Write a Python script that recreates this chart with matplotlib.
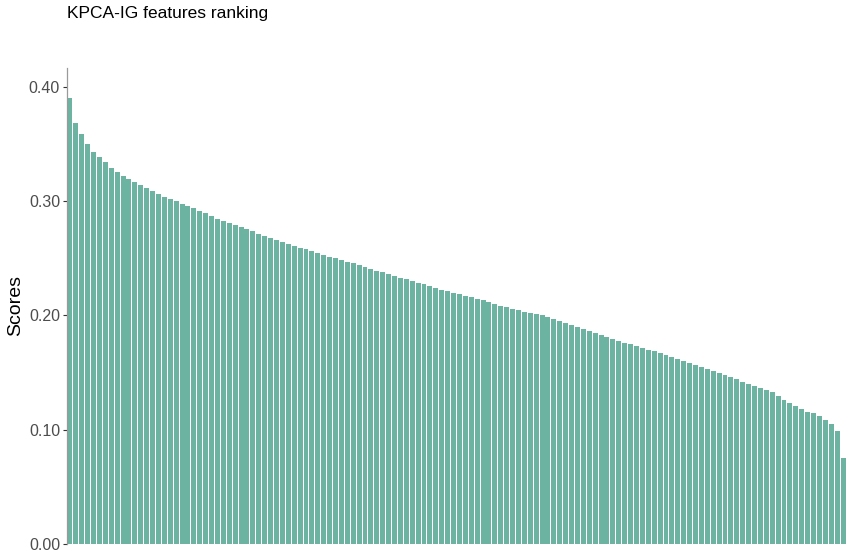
import matplotlib
matplotlib.use("Agg")
import matplotlib.pyplot as plt
import numpy as np

plt.rcParams["font.family"] = ["Liberation Sans", "DejaVu Sans"]

# KPCA-IG scores, ranked
scores = [
    0.390, 0.3685, 0.3584, 0.3500, 0.3435, 0.3385, 0.3344, 0.3295, 0.3252, 0.3218,
    0.3191, 0.3167, 0.3143, 0.3116, 0.3090, 0.3065, 0.3039, 0.3017, 0.2998, 0.2978,
    0.2958, 0.2938, 0.2916, 0.2893, 0.2870, 0.2847, 0.2825, 0.2807, 0.2789, 0.2771,
    0.2753, 0.2735, 0.2717, 0.2698, 0.2680, 0.2662, 0.2644, 0.2625, 0.2609, 0.2594,
    0.2579, 0.2563, 0.2548, 0.2532, 0.2516, 0.2501, 0.2486, 0.2471, 0.2455, 0.2440,
    0.2424, 0.2408, 0.2393, 0.2377, 0.2362, 0.2347, 0.2332, 0.2318, 0.2303, 0.2287,
    0.2272, 0.2256, 0.2241, 0.2225, 0.2210, 0.2197, 0.2184, 0.2172, 0.2159, 0.2146,
    0.2132, 0.2117, 0.2101, 0.2085, 0.2070, 0.2054, 0.2044, 0.2034, 0.2023, 0.2013,
    0.2002, 0.1990, 0.1972, 0.1954, 0.1936, 0.1917, 0.1899, 0.1881, 0.1863, 0.1844,
    0.1826, 0.1810, 0.1794, 0.1779, 0.1763, 0.1747, 0.1732, 0.1716, 0.1701, 0.1686,
    0.1670, 0.1655, 0.1639, 0.1621, 0.1603, 0.1584, 0.1566, 0.1547, 0.1529, 0.1511,
    0.1493, 0.1476, 0.1458, 0.1440, 0.1422, 0.1404, 0.1386, 0.1368, 0.1350, 0.1326,
    0.1291, 0.1262, 0.1236, 0.1210, 0.1185, 0.1158, 0.1143, 0.1122, 0.1089, 0.1049,
    0.0985, 0.0750,
]
yticks = [0.0, 0.1, 0.2, 0.3, 0.4]
ytick_labels = ["0.00", "0.10", "0.20", "0.30", "0.40"]

fig = plt.figure(figsize=(8.51, 5.6), dpi=100)
ax = fig.add_axes([0.0787, 0.0286, 0.9154, 0.85])

x = np.arange(len(scores))
ax.bar(x, scores, width=0.84, color="#6db3a1", linewidth=0)

ax.set_xlim(-0.5, len(scores) - 0.5)
ax.set_ylim(0, 0.4166)
ax.set_xticks([])
ax.set_yticks(yticks)
ax.set_yticklabels(ytick_labels, fontsize=11.5, color="#4d4d4d")
ax.tick_params(axis="y", length=3, width=0.8, color="#333333", pad=2)

for side in ["top", "right", "bottom"]:
    ax.spines[side].set_visible(False)
ax.spines["left"].set_color("#9a9a9a")
ax.spines["left"].set_linewidth(0.9)

ax.set_ylabel("Scores", fontsize=14, labelpad=3)
fig.text(0.0787, 0.963, "KPCA-IG features ranking", fontsize=12.5, ha="left", va="bottom")

fig.savefig("out.png", dpi=100)
